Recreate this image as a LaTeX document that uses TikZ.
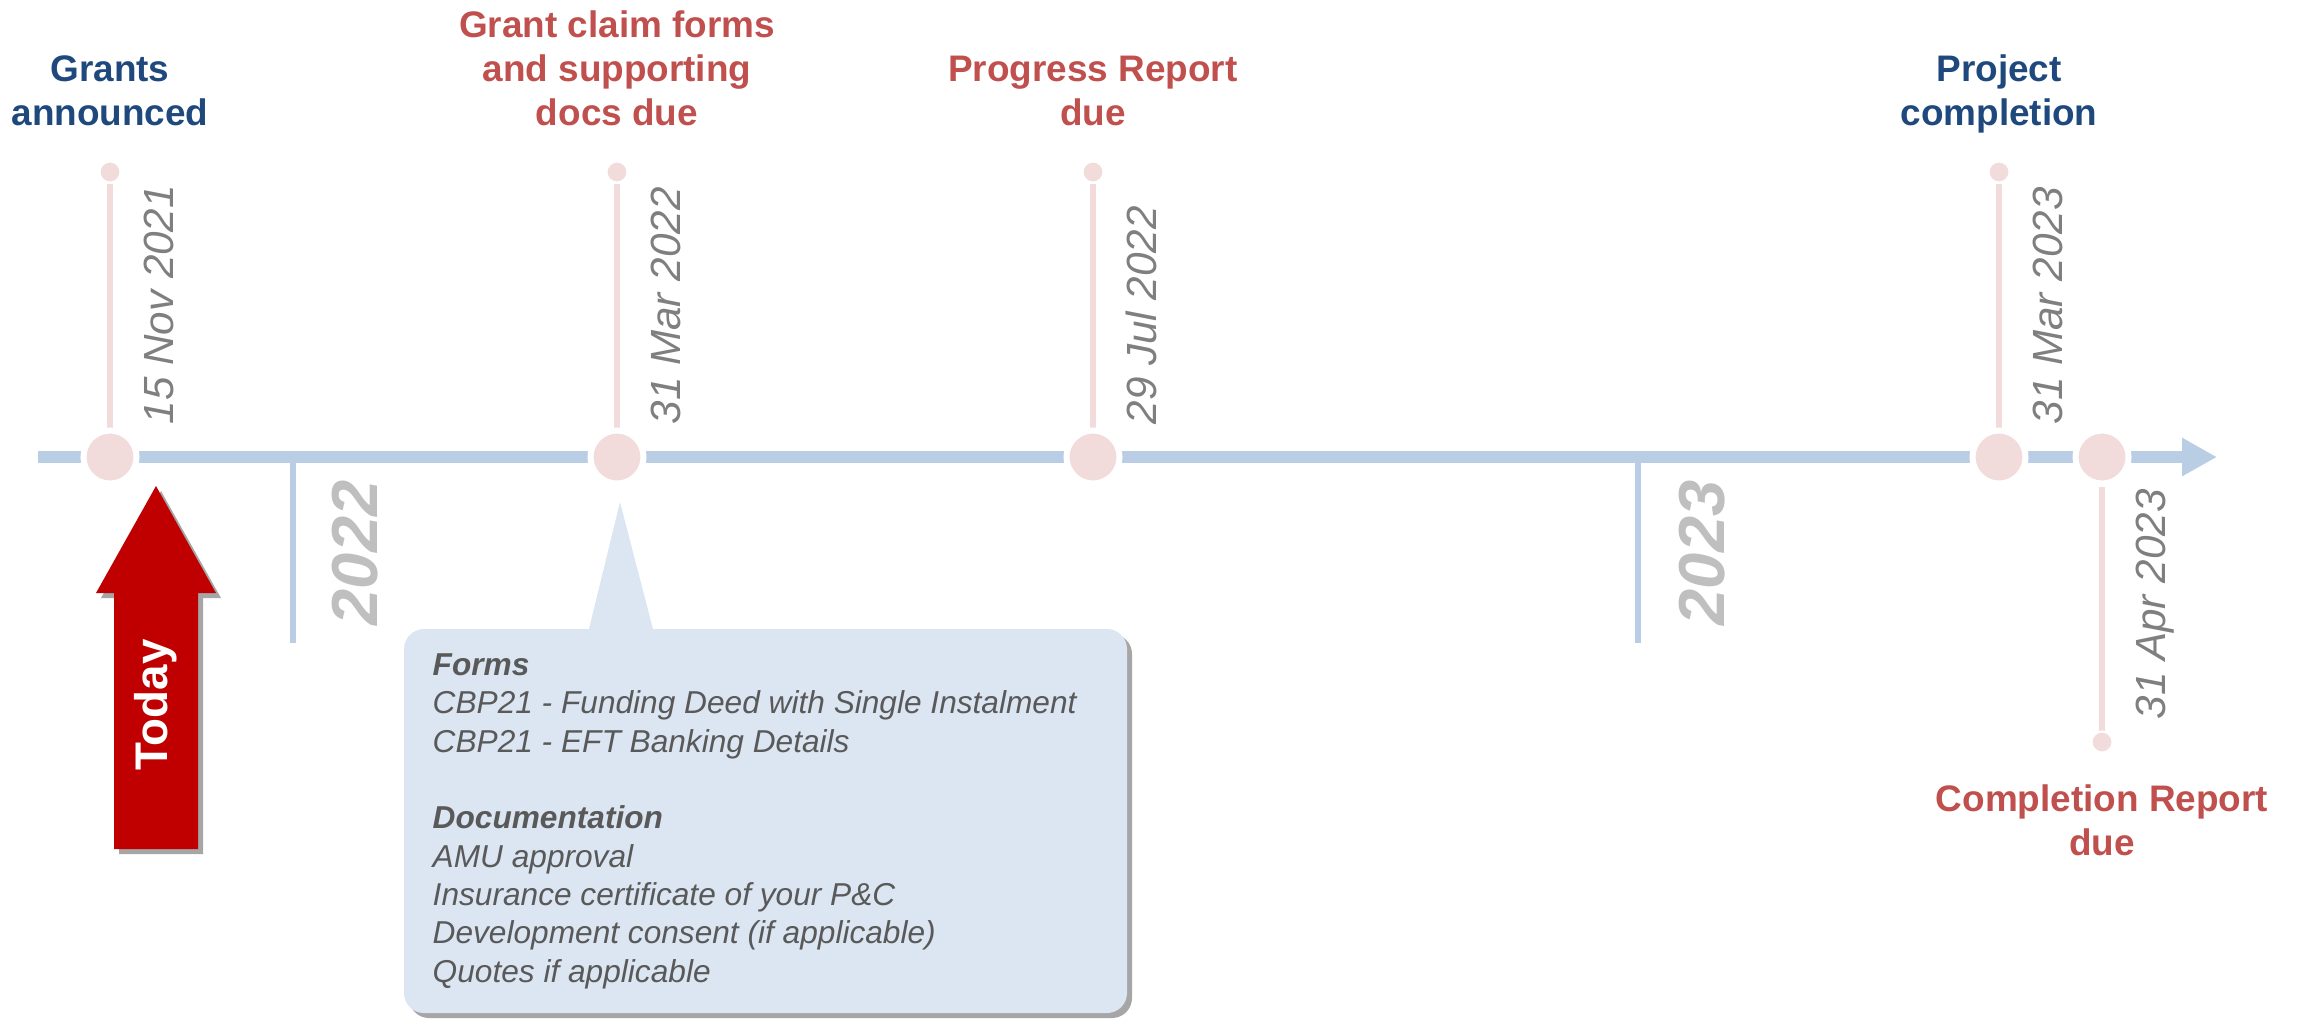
\documentclass[tikz,border=0pt]{standalone}
\usepackage{fontspec}
\setmainfont{Liberation Sans}
\usetikzlibrary{arrows.meta}
\usetikzlibrary{shadows}
\usetikzlibrary{backgrounds}
\definecolor{axisblue}{HTML}{B9CDE5}
\definecolor{evpink}{HTML}{F2DCDB}
\definecolor{navy}{HTML}{1F497D}
\definecolor{dred}{HTML}{C0504D}
\definecolor{dategray}{HTML}{7F7F7F}
\definecolor{yeargray}{HTML}{BFBFBF}
\definecolor{todayred}{HTML}{C00000}
\definecolor{callfill}{HTML}{DCE6F2}
\definecolor{calltext}{HTML}{595959}

\begin{document}
\begin{tikzpicture}[x=0.01cm, y=-0.01cm,
    event/.style={circle, fill=evpink, draw=white, line width=0.06cm, minimum size=0.53cm, inner sep=0},
    tipdot/.style={circle, fill=evpink, draw=white, line width=0.02cm, minimum size=0.21cm, inner sep=0},
    stem/.style={evpink, line width=0.06cm},
    axisline/.style={axisblue, line width=0.12cm},
    datelbl/.style={rotate=90, anchor=base west, inner sep=0, text=dategray, font=\fontsize{12}{14}\selectfont\itshape},
    yearlbl/.style={rotate=90, anchor=base west, inner sep=0, text=yeargray, font=\fontsize{18.5}{22}\selectfont\bfseries\itshape},
    bluetitle/.style={align=center, inner sep=0, text depth=0pt, text=navy, font=\fontsize{10.5}{12.5}\selectfont\bfseries},
    redtitle/.style={bluetitle, text=dred},
    softshadow/.style={drop shadow={shadow xshift=0.05cm, shadow yshift=-0.05cm, opacity=0.35, fill=black}},
    todayarrow/.style={fill=todayred, softshadow},
    todaytxt/.style={rotate=90, inner sep=0, text=white, font=\fontsize{13}{15}\selectfont\bfseries},
    callout/.style={fill=callfill, rounded corners=0.2cm, softshadow},
    docs/.style={anchor=north west, align=left, inner sep=0, text=calltext, font=\fontsize{9}{10.9}\selectfont\itshape}]
  \useasboundingbox (0,0) rectangle (2298,1020);

  % events on the line
  \node [event] (e1) at (110,457) {};
  \node [event] (e2) at (617,457) {};
  \node [event] (e3) at (1093,457) {};
  \node [event] (e4) at (1999,457) {};
  \node [event] (e5) at (2102,457) {};

  \node [tipdot] (d1) at (110,172) {};
  \node [tipdot] (d2) at (617,172) {};
  \node [tipdot] (d3) at (1093,172) {};
  \node [tipdot] (d4) at (1999,172) {};
  \node [tipdot] (d5) at (2102,742) {};

  \node [bluetitle, anchor=south] (t1) at (110,126) {Grants\\announced};
  \node [redtitle, anchor=south] (t2) at (617,126) {Grant claim forms\\and supporting\\docs due};
  \node [redtitle, anchor=south] (t3) at (1093,126) {Progress Report\\due};
  \node [bluetitle, anchor=south] (t4) at (1999,126) {Project\\completion};
  \node [redtitle, anchor=north] (t5) at (2102,784) {Completion Report\\due};

  \node [datelbl] (dt1) at (173,425) {15 Nov 2021};
  \node [datelbl] (dt2) at (680,425) {31 Mar 2022};
  \node [datelbl] (dt3) at (1156,425) {29 Jul 2022};
  \node [datelbl] (dt4) at (2062,425) {31 Mar 2023};
  \node [datelbl] (dt5) at (2165,720) {31 Apr 2023};

  \node [yearlbl] (y22) at (377,626) {2022};
  \node [yearlbl] (y23) at (1724,626) {2023};

  \coordinate (ax0) at (38,457);
  \coordinate (ax1) at (2217,457);
  \coordinate (k22a) at (293,457);
  \coordinate (k22b) at (293,643);
  \coordinate (k23a) at (1638,457);
  \coordinate (k23b) at (1638,643);

  \begin{scope}[on background layer]
    \draw [axisline, -{Triangle[length=0.35cm, width=0.36cm]}] (ax0) -- (ax1);
    \draw [axisblue, line width=0.065cm] (k22a) -- (k22b);
    \draw [axisblue, line width=0.065cm] (k23a) -- (k23b);
    \draw [stem] (d1) -- (e1);
    \draw [stem] (d2) -- (e2);
    \draw [stem] (d3) -- (e3);
    \draw [stem] (d4) -- (e4);
    \draw [stem] (d5) -- (e5);
  \end{scope}

  % today marker
  \fill [todayarrow] (114,849) -- (114,593) -- (96,593) -- (156,486) -- (216,593) -- (198,593) -- (198,849) -- cycle;
  \node [todaytxt] (today) at (156,705) {Today};

  % callout with the documents
  \fill [callout] (404,629) rectangle (1127,1013);
  \fill [callfill] (588,633) -- (620,502) -- (654,633) -- cycle;
  \node [docs] (docs) at (432,653) {\textbf{Forms}\\
    CBP21 - Funding Deed with Single Instalment\\
    CBP21 - EFT Banking Details\\[10.9pt]
    \textbf{Documentation}\\
    AMU approval\\
    Insurance certificate of your P\&C\\
    Development consent (if applicable)\\
    Quotes if applicable};
\end{tikzpicture}
\end{document}
